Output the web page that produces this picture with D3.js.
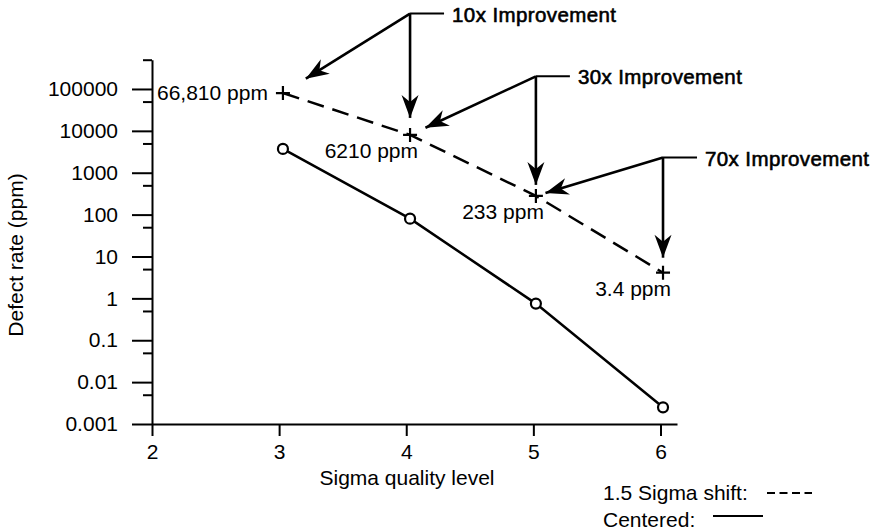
<!DOCTYPE html>
<html>
<head>
<meta charset="utf-8">
<script src="https://cdn.jsdelivr.net/npm/d3@7"></script>
<style>
  body { margin: 0; background: #fff; }
  svg { display: block; font-family: "Liberation Sans", Arial, Helvetica, sans-serif; }
  .axis path, .axis line { stroke: #000; stroke-width: 2; }
  .axis text { font-size: 21px; fill: #000; font-family: "Liberation Sans", Arial, sans-serif; }
</style>
</head>
<body>
<svg id="chart" width="881" height="532"></svg>
<script>
// sigma levels (points sit a touch right of the ticks in the original)
var sigmaLevels = [3.03, 4.03, 5.02, 6.02];
// 1.5 sigma shifted process, ppm (as plotted)
var shiftedPpm = [80000, 8000, 280, 4.1];
var shiftedLabels = ["66,810 ppm", "6210 ppm", "233 ppm", "3.4 ppm"];
// centered process, ppm
var centeredPpm = [3700, 80, 0.75, 0.0025];

var yMajorTicks = [100000, 10000, 1000, 100, 10, 1, 0.1, 0.01, 0.001];
var yMinorTicks = [500000, 50000, 5000, 500, 50, 5, 0.5, 0.05, 0.005];
var xTicks = [2, 3, 4, 5, 6];

// improvement call-outs: from point i to point i+1, junction height in ppm
var improvementText = ["10x Improvement", "30x Improvement", "70x Improvement"];
var improvementFrom = [0, 1, 2];
var improvementJunction = [6.3e6, 200000, 2300];

var svg = d3.select("#chart");

var x = d3.scaleLinear().domain([2, 6.13]).range([152, 677]);
var y = d3.scaleLog().domain([0.001, 500000]).range([424, 59.7]);

// arrowhead
svg.append("defs").append("marker")
    .attr("id", "arrow")
    .attr("markerUnits", "userSpaceOnUse")
    .attr("viewBox", "-24 -10 26 20")
    .attr("refX", 0).attr("refY", 0)
    .attr("markerWidth", 26).attr("markerHeight", 20)
    .attr("orient", "auto")
  .append("path")
    .attr("d", "M0,0L-23,-8.5L-16,0L-23,8.5Z")
    .attr("fill", "#000");

// y axis, major + minor
svg.append("g")
    .attr("class", "axis")
    .attr("transform", "translate(152,0)")
    .call(d3.axisLeft(y).tickValues(yMajorTicks).tickSize(20).tickSizeOuter(0).tickPadding(14)
        .tickFormat(function(d) { return d >= 1 ? d3.format("d")(d) : String(d); }));

svg.append("g")
    .attr("class", "axis")
    .attr("transform", "translate(152,0)")
    .call(d3.axisLeft(y).tickValues(yMinorTicks).tickSize(9).tickSizeOuter(0).tickFormat(""))
    .select(".domain").remove();

svg.append("g")
    .attr("class", "axis")
    .attr("transform", "translate(0,424)")
    .call(d3.axisBottom(x).tickValues(xTicks).tickSize(12).tickSizeOuter(0).tickPadding(8)
        .tickFormat(d3.format("d")));

// axis titles
svg.append("text")
    .attr("transform", "translate(23,255) rotate(-90)")
    .attr("text-anchor", "middle")
    .attr("font-size", 21)
    .text("Defect rate (ppm)");

svg.append("text")
    .attr("x", 407).attr("y", 485)
    .attr("text-anchor", "middle")
    .attr("font-size", 21)
    .text("Sigma quality level");

// series
var line = d3.line()
    .x(function(d) { return x(d[0]); })
    .y(function(d) { return y(d[1]); });

var shifted = sigmaLevels.map(function(s, i) { return [s, shiftedPpm[i]]; });
var centered = sigmaLevels.map(function(s, i) { return [s, centeredPpm[i]]; });

svg.append("path")
    .datum(shifted)
    .attr("d", line)
    .attr("fill", "none")
    .attr("stroke", "#000")
    .attr("stroke-width", 2.5)
    .attr("stroke-dasharray", "17,9");

svg.append("path")
    .datum(centered)
    .attr("d", line)
    .attr("fill", "none")
    .attr("stroke", "#000")
    .attr("stroke-width", 2.5);

svg.selectAll(".plus")
    .data(shifted)
  .enter().append("path")
    .attr("class", "plus")
    .attr("transform", function(d) { return "translate(" + x(d[0]) + "," + y(d[1]) + ")"; })
    .attr("d", "M-7,0H7M0,-7V7")
    .attr("stroke", "#000")
    .attr("stroke-width", 2.2);

svg.selectAll(".circ")
    .data(centered)
  .enter().append("circle")
    .attr("class", "circ")
    .attr("cx", function(d) { return x(d[0]); })
    .attr("cy", function(d) { return y(d[1]); })
    .attr("r", 5)
    .attr("fill", "#fff")
    .attr("stroke", "#000")
    .attr("stroke-width", 2.2);

// ppm labels; first one sits left of its point, the rest below-left
svg.selectAll(".ppm")
    .data(shifted)
  .enter().append("text")
    .attr("class", "ppm")
    .attr("text-anchor", "end")
    .attr("font-size", 21)
    .attr("x", function(d, i) { return x(d[0]) + (i === 0 ? -15 : 8); })
    .attr("y", function(d, i) { return y(d[1]) + (i === 0 ? 7 : 23); })
    .text(function(d, i) { return shiftedLabels[i]; });

// call-outs
var diagGap = [27, 17, 10],
    vertGap = [17, 11, 15];

function shorten(x0, y0, x1, y1, gap) {
  var dx = x1 - x0, dy = y1 - y0, len = Math.sqrt(dx * dx + dy * dy);
  return [x1 - dx / len * gap, y1 - dy / len * gap];
}

improvementText.forEach(function(t, k) {
  var a = shifted[improvementFrom[k]], b = shifted[improvementFrom[k] + 1];
  var jx = x(b[0]), jy = y(improvementJunction[k]);
  var g = svg.append("g");
  var tipA = shorten(jx, jy, x(a[0]), y(a[1]), diagGap[k]);
  var tipB = shorten(jx, jy, x(b[0]), y(b[1]), vertGap[k]);
  [tipA, tipB].forEach(function(tip) {
    g.append("line")
        .attr("x1", jx).attr("y1", jy)
        .attr("x2", tip[0]).attr("y2", tip[1])
        .attr("stroke", "#000")
        .attr("stroke-width", 2.6)
        .attr("marker-end", "url(#arrow)");
  });
  g.append("line")
      .attr("x1", jx).attr("y1", jy)
      .attr("x2", jx + 34).attr("y2", jy)
      .attr("stroke", "#000")
      .attr("stroke-width", 2);
  // the original lettering is a slightly heavy, loosely spaced Helvetica
  g.append("text")
      .attr("x", jx + 42).attr("y", jy + 8)
      .attr("font-size", 20.5)
      .attr("stroke", "#000")
      .attr("stroke-width", 0.6)
      .attr("letter-spacing", 0.4)
      .text(t);
});

// legend
svg.append("text").attr("x", 603).attr("y", 500).attr("font-size", 21).text("1.5 Sigma shift:");
svg.append("line")
    .attr("x1", 767).attr("x2", 812).attr("y1", 493).attr("y2", 493)
    .attr("stroke", "#000").attr("stroke-width", 2).attr("stroke-dasharray", "8,4.5");
svg.append("text").attr("x", 603).attr("y", 527).attr("font-size", 21).text("Centered:");
svg.append("line")
    .attr("x1", 713).attr("x2", 763).attr("y1", 516).attr("y2", 516)
    .attr("stroke", "#000").attr("stroke-width", 2);
</script>
</body>
</html>
